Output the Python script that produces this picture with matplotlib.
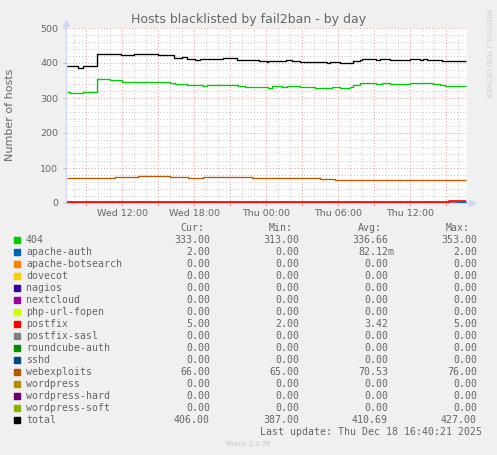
import numpy as np
import matplotlib
matplotlib.use('Agg')
import matplotlib.pyplot as plt
from matplotlib.patches import Rectangle

# time in hours since Wed 00:00 (step series)
t_start, t_end = 7.42, 40.67

hours_404 = [7.42, 7.7, 8.5, 8.78, 9.89, 11.0, 11.97, 16.0, 16.42, 17.11, 17.39,
             18.78, 19.06, 21.0, 21.69, 22.25, 24.19, 24.47, 25.31, 25.72, 26.83,
             28.08, 29.47, 30.17, 31.0, 31.28, 31.83, 33.2, 33.64, 34.33, 36.0,
             37.94, 38.5, 38.92]
val_404 = [317, 314, 315, 317, 353, 351, 345, 343, 339, 340, 336,
           334, 336, 337, 335, 331, 329, 333, 331, 334, 331,
           328, 330, 328, 330, 337, 342, 339, 342, 340, 342,
           340, 337, 333]

hours_total = [7.42, 8.3, 8.75, 9.9, 11.9, 13.0, 15.0, 16.3, 17.0, 17.4, 18.1,
               18.5, 20.4, 21.6, 23.4, 24.06, 24.2, 25.58, 25.7, 26.14, 26.83,
               28.08, 29.06, 29.33, 30.17, 30.86, 31.28, 31.83, 31.97, 33.2, 33.5,
               34.33, 36.0, 36.83, 37.1, 37.4, 38.64, 38.92]
val_total = [391, 387, 391, 426, 422, 427, 422, 414, 416, 411, 408,
             411, 413, 410, 407, 404, 407, 405, 410, 407, 404,
             402, 400, 402, 400, 399, 405, 408, 411, 409, 411,
             410, 411, 410, 411, 410, 407, 406]

hours_webexploits = [7.42, 11.42, 13.36, 16.0, 17.53, 18.78, 22.8, 28.5, 29.75]
val_webexploits = [71, 74, 76, 74, 71, 74, 71, 68, 66]

hours_postfix = [7.42, 39.25]
val_postfix = [2, 5]

hours_apache_auth = [7.42, 39.9]
val_apache_auth = [0, 2]

names = ['404', 'apache-auth', 'apache-botsearch', 'dovecot', 'nagios', 'nextcloud',
         'php-url-fopen', 'postfix', 'postfix-sasl', 'roundcube-auth', 'sshd',
         'webexploits', 'wordpress', 'wordpress-hard', 'wordpress-soft', 'total']
colors = ['#00CC00', '#0066B3', '#FF8000', '#FFCC00', '#330099', '#990099',
          '#CCFF00', '#FF0000', '#808080', '#008F00', '#00487D', '#B35A00',
          '#B38F00', '#6B006B', '#8FB300', '#000000']
cur = ['333.00', '2.00', '0.00', '0.00', '0.00', '0.00', '0.00', '5.00', '0.00',
       '0.00', '0.00', '66.00', '0.00', '0.00', '0.00', '406.00']
mins = ['313.00', '0.00', '0.00', '0.00', '0.00', '0.00', '0.00', '2.00', '0.00',
        '0.00', '0.00', '65.00', '0.00', '0.00', '0.00', '387.00']
avgs = ['336.66', '82.12m', '0.00', '0.00', '0.00', '0.00', '0.00', '3.42', '0.00',
        '0.00', '0.00', '70.53', '0.00', '0.00', '0.00', '410.69']
maxs = ['353.00', '2.00', '0.00', '0.00', '0.00', '0.00', '0.00', '5.00', '0.00',
        '0.00', '0.00', '76.00', '0.00', '0.00', '0.00', '427.00']

tick_hours = [12, 18, 24, 30, 36]
tick_names = ['Wed 12:00', 'Wed 18:00', 'Thu 00:00', 'Thu 06:00', 'Thu 12:00']

series = {
    '404': (hours_404, val_404),
    'apache-auth': (hours_apache_auth, val_apache_auth),
    'postfix': (hours_postfix, val_postfix),
    'webexploits': (hours_webexploits, val_webexploits),
    'total': (hours_total, val_total),
}

W, H = 497, 455
FONT = '#666666'
AXIS = '#CFD6F8'

fig = plt.figure(figsize=(W / 100, H / 100), dpi=100, facecolor='#F0F0F0')
ax = fig.add_axes([66 / W, 1 - 203 / H, 401 / W, 175 / H])
ax.set_facecolor('white')
ax.set_xlim(7.33, 40.75)
ax.set_ylim(0, 500)

# grid
for h in np.arange(8, 41):
    if h % 3 == 0:
        ax.axvline(h, color='#E8A0A0', lw=0.75, ls=(0, (1, 2)), zorder=1)
    else:
        ax.axvline(h, color='#CCCCCC', lw=0.75, ls=(0, (1, 2)), zorder=0.5)
for v in np.arange(20, 501, 20):
    if v % 100 == 0:
        ax.axhline(v, color='#E8A0A0', lw=0.75, ls=(0, (1, 2)), zorder=1)
    else:
        ax.axhline(v, color='#CCCCCC', lw=0.75, ls=(0, (1, 2)), zorder=0.5)

for name, col in zip(names, colors):
    if name in series:
        hs, vs = series[name]
        x = list(hs) + [t_end]
        y = list(vs) + [vs[-1]]
        z = 3
    else:
        x, y = [t_start, t_end], [0, 0]
        z = 2
    lw = 1.25 if name == 'postfix' else 0.95
    ax.plot(x, y, color=col, lw=lw, drawstyle='steps-post', zorder=z,
            solid_capstyle='butt')

for s in ['top', 'right']:
    ax.spines[s].set_visible(False)
for s in ['left', 'bottom']:
    ax.spines[s].set_color(AXIS)
    ax.spines[s].set_linewidth(0.9)
    ax.spines[s].set_zorder(1.5)
ax.plot([40.75, 41.2], [0, 0], color=AXIS, lw=0.9, clip_on=False)
ax.plot([41.2], [0], marker='>', ms=5, color=AXIS, mec=AXIS, clip_on=False)
ax.plot([7.33, 7.33], [500, 515], color=AXIS, lw=0.9, clip_on=False)
ax.plot([7.33], [515], marker='^', ms=5, color=AXIS, mec=AXIS, clip_on=False)

ax.set_xticks(np.arange(9, 40, 3))
ax.set_xticklabels([tick_names[tick_hours.index(h)] if h in tick_hours else ''
                    for h in np.arange(9, 40, 3)])
ax.set_yticks(np.arange(0, 501, 100))
ax.tick_params(axis='x', length=2, width=0.75, color='#E8A0A0', pad=2.5,
               labelsize=6.8, labelcolor=FONT)
ax.tick_params(axis='y', length=2, width=0.75, color='#C0C0C0', pad=3.5,
               labelsize=6.8, labelcolor=FONT)

fig.text(248.5 / W, 1 - 19 / H, 'Hosts blacklisted by fail2ban - by day',
         ha='center', va='center', fontsize=9, color=FONT)
fig.text(10 / W, 1 - 115 / H, 'Number of hosts', rotation=90,
         ha='center', va='center', fontsize=8, color=FONT)
fig.text(488 / W, 1 - 53 / H, 'RRDTOOL / TOBI OETIKER', rotation=-90,
         ha='center', va='center', fontsize=5, color='#CFCFCF')
fig.text(248.5 / W, 1 - 444 / H, 'Munin 2.0.76', ha='center', va='center',
         fontsize=4.9, color='#C8C8C8')

# legend table
mono = dict(family='DejaVu Sans Mono', fontsize=7.1, color=FONT, va='center')
row0, step = 239.7, 12
fig.text(204 / W, 1 - (row0 - step) / H, 'Cur:', ha='right', **mono)
fig.text(293 / W, 1 - (row0 - step) / H, 'Min:', ha='right', **mono)
fig.text(382 / W, 1 - (row0 - step) / H, 'Avg:', ha='right', **mono)
fig.text(470 / W, 1 - (row0 - step) / H, 'Max:', ha='right', **mono)
for i, name in enumerate(names):
    yc = row0 + i * step
    fig.patches.append(Rectangle((14 / W, 1 - (yc + 3) / H), 6 / W, 6 / H,
                                 transform=fig.transFigure, color=colors[i],
                                 figure=fig))
    fig.text(26 / W, 1 - yc / H, name, ha='left', **mono)
    fig.text(210 / W, 1 - yc / H, cur[i], ha='right', **mono)
    fig.text(299 / W, 1 - yc / H, mins[i], ha='right', **mono)
    avg_end = 394 if avgs[i].endswith('m') else 388
    fig.text(avg_end / W, 1 - yc / H, avgs[i], ha='right', **mono)
    fig.text(477 / W, 1 - yc / H, maxs[i], ha='right', **mono)
fig.text(482 / W, 1 - (row0 + 16 * step) / H,
         'Last update: Thu Dec 18 16:40:21 2025', ha='right', **mono)

fig.savefig('out.png', dpi=100, facecolor=fig.get_facecolor())
